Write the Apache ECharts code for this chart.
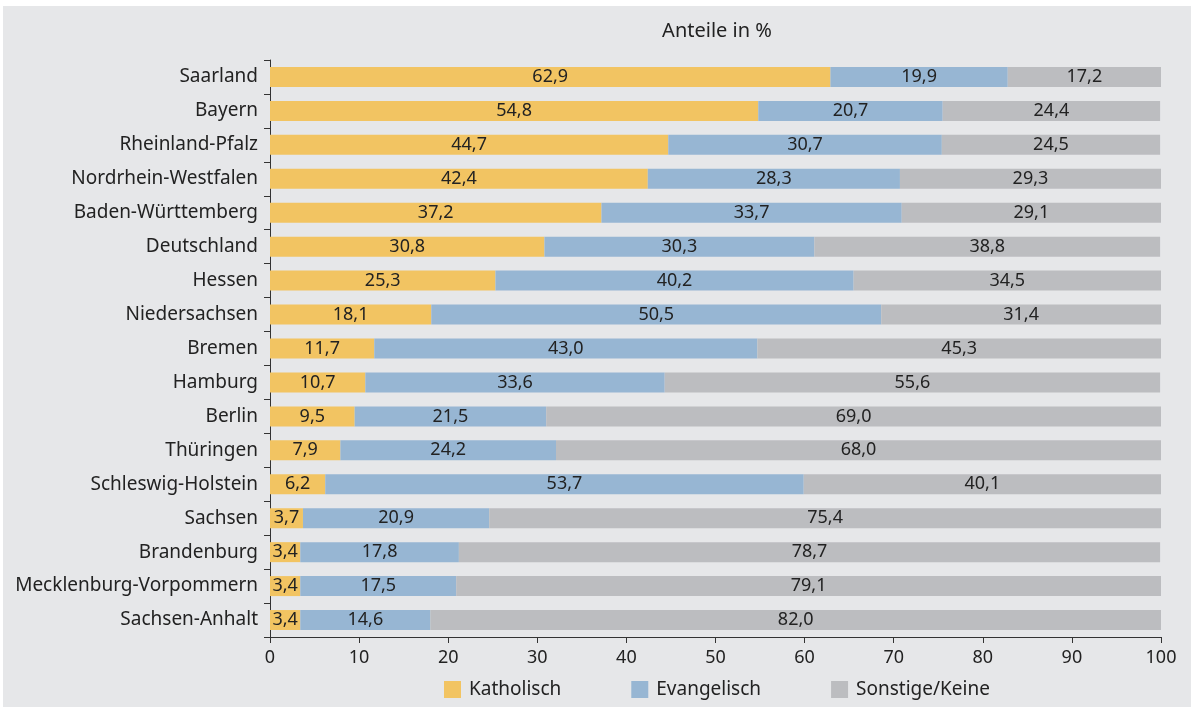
<!DOCTYPE html>
<html><head><meta charset="utf-8">
<script src="https://cdn.jsdelivr.net/npm/echarts@6/dist/echarts.min.js"></script>
<style>
html,body{margin:0;padding:0;background:#fff;}
#panel{position:absolute;left:3px;top:6px;width:1188px;height:701px;background:#e6e7e9;}
#chart{position:absolute;left:0;top:0;width:1195px;height:709px;}
</style></head>
<body>
<div id="panel"></div>
<div id="chart"></div>
<script>
const categories = ["Saarland","Bayern","Rheinland-Pfalz","Nordrhein-Westfalen","Baden-Württemberg","Deutschland","Hessen","Niedersachsen","Bremen","Hamburg","Berlin","Thüringen","Schleswig-Holstein","Sachsen","Brandenburg","Mecklenburg-Vorpommern","Sachsen-Anhalt"];
const katholisch = [62.9,54.8,44.7,42.4,37.2,30.8,25.3,18.1,11.7,10.7,9.5,7.9,6.2,3.7,3.4,3.4,3.4];
const evangelisch = [19.9,20.7,30.7,28.3,33.7,30.3,40.2,50.5,43.0,33.6,21.5,24.2,53.7,20.9,17.8,17.5,14.6];
const sonstige = [17.2,24.4,24.5,29.3,29.1,38.8,34.5,31.4,45.3,55.6,69.0,68.0,40.1,75.4,78.7,79.1,82.0];
const seriesNames = ["Katholisch","Evangelisch","Sonstige/Keine"];
const colors = ["#f2c462","#97b6d3","#bcbdc0"];
const axisTicks = [0,10,20,30,40,50,60,70,80,90,100];

const font = "'Noto Sans', 'Open Sans', sans-serif";
const chart = echarts.init(document.getElementById('chart'), null, {renderer:'canvas'});
function mk(name, data, color){
  return {
    name, type:'bar', stack:'all', data, barWidth:20,
    itemStyle:{color},
    label:{show:true, position:'inside', color:'#222', fontSize:18, fontFamily:font,
      formatter:p=>p.value.toFixed(1).replace('.',',')}
  };
}
chart.setOption({
  backgroundColor:'transparent',
  animation:false,
  textStyle:{fontFamily:font},
  title:{text:'Anteile in %', left:712, top:16, textAlign:'center',
    textStyle:{fontSize:20, fontWeight:'normal', color:'#222', fontFamily:font}},
  grid:{left:270, right:34, top:60, bottom:72, containLabel:false},
  legend:{bottom:5, left:439, itemWidth:17, itemHeight:17, itemGap:70, icon:'rect',
    textStyle:{fontSize:19, color:'#222', fontFamily:font, padding:[0,0,0,3]}, data:seriesNames},
  xAxis:{type:'value', min:axisTicks[0], max:axisTicks[axisTicks.length-1], interval:10,
    axisLine:{show:true, lineStyle:{color:'#333'}},
    axisTick:{show:true, length:6, lineStyle:{color:'#333'}},
    axisLabel:{fontSize:18, color:'#222', margin:12, fontFamily:font},
    splitLine:{show:false}},
  yAxis:{type:'category', data:categories, inverse:true,
    axisLine:{show:true, lineStyle:{color:'#333'}},
    axisTick:{show:true, length:6, lineStyle:{color:'#333'}},
    axisLabel:{fontSize:19, color:'#222', margin:12, fontFamily:font}},
  series:[mk(seriesNames[0],katholisch,colors[0]), mk(seriesNames[1],evangelisch,colors[1]), mk(seriesNames[2],sonstige,colors[2])]
});
</script>
</body></html>
